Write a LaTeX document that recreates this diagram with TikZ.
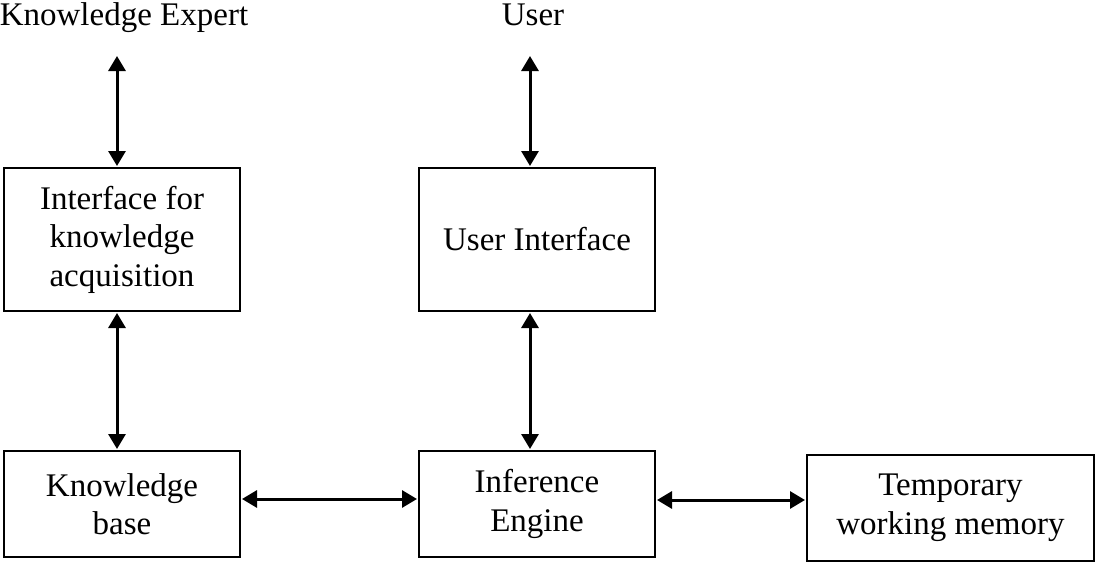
\documentclass[tikz,border=0pt]{standalone}
\usepackage{fontspec}
\setmainfont{Liberation Serif}
\usetikzlibrary{arrows.meta}
\begin{document}
\begin{tikzpicture}[x=1pt,y=-1pt,
  box/.style={draw,line width=2pt,minimum width=236pt,align=center,inner sep=0pt,
    font=\fontsize{33}{38.5}\selectfont},
  lbl/.style={anchor=base,inner sep=0pt,font=\fontsize{33}{38.5}\selectfont},
  arr/.style={line width=3pt,{Triangle[width=17pt,length=15pt]}-{Triangle[width=17pt,length=15pt]},shorten <=1pt,shorten >=1pt}]
\useasboundingbox (0,0) rectangle (1096,562);
\node[box,minimum height=143pt] (ika) at (122,239.5) {Interface for\\knowledge\\acquisition};
\node[box,minimum height=143pt] (ui) at (537,239.5) {User Interface};
\node[box,minimum height=106pt] (kb) at (122,504) {Knowledge\\base};
\node[box,minimum height=106pt] (ie) at (537,504) {Inference\\Engine};
\node[box,minimum height=106pt,minimum width=287pt] (twm) at (950.5,508) {Temporary\\working memory};
\node[lbl] (ke) at (124,25) {Knowledge Expert};
\node[lbl] (user) at (533,25) {User};
\coordinate (ketip) at (117,55);
\coordinate (usertip) at (530,55);
\coordinate (h1) at (0,499);
\coordinate (h2) at (0,500);
\draw[arr] (ketip) -- (ketip |- ika.north);
\draw[arr] (usertip) -- (usertip |- ui.north);
\draw[arr] (ketip |- ika.south) -- (ketip |- kb.north);
\draw[arr] (usertip |- ui.south) -- (usertip |- ie.north);
\draw[arr] (kb.east |- h1) -- (ie.west |- h1);
\draw[arr] (ie.east |- h2) -- (twm.west |- h2);
\end{tikzpicture}
\end{document}
